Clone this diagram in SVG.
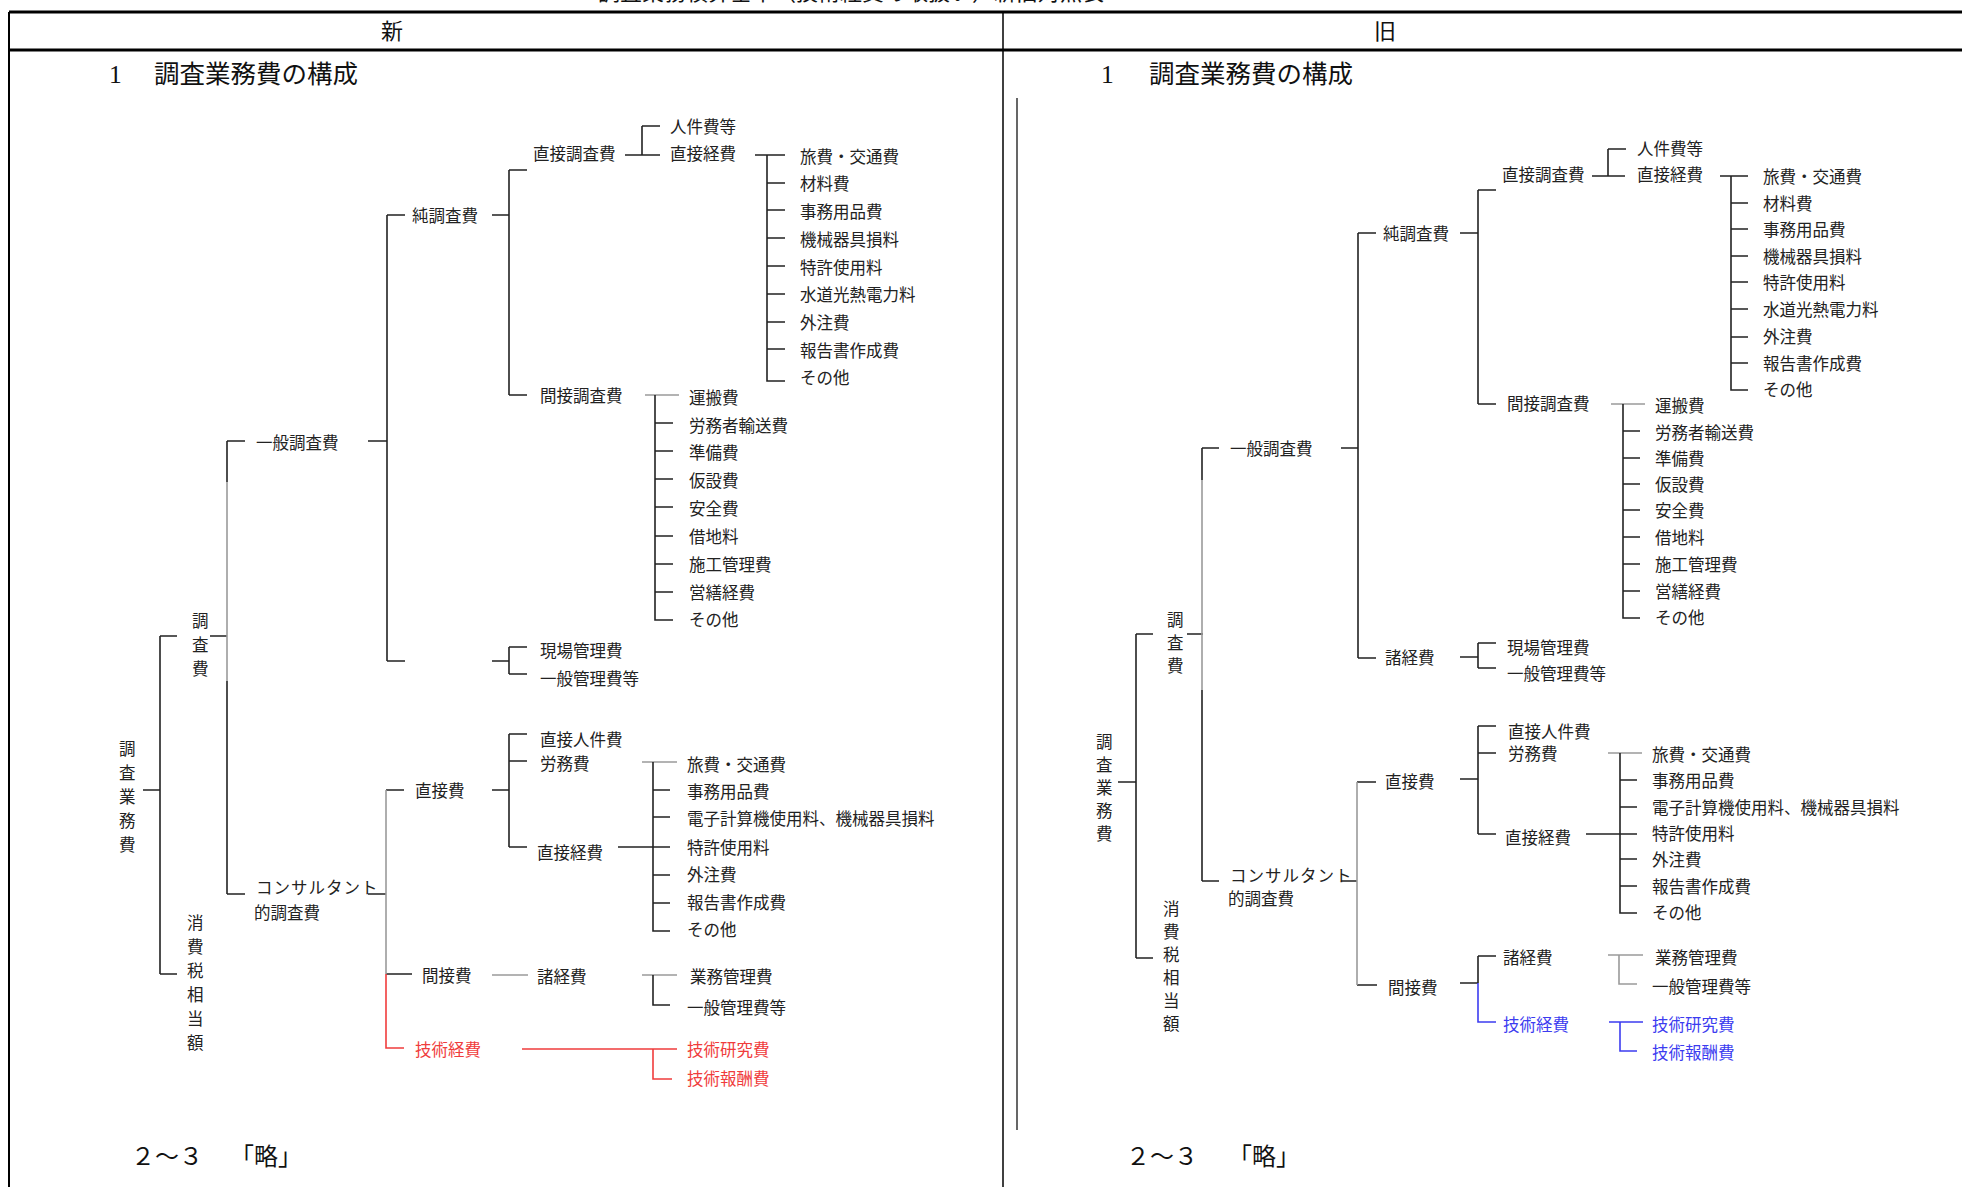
<svg xmlns="http://www.w3.org/2000/svg" width="1962" height="1187" viewBox="0 0 1962 1187">
<style>
.t{font-family:"Noto Sans CJK JP","Noto Sans CJK SC",sans-serif;font-size:16.5px;fill:#222;dominant-baseline:central}
.h{font-family:"Liberation Serif","Noto Sans CJK JP",serif;font-size:24px;fill:#111;dominant-baseline:central}
.red{fill:#f03c3c}
.blue{fill:#3c3cf0}
.l{stroke:#222;stroke-width:1.6;fill:none}
.g{stroke:#9a9a9a;stroke-width:1.6;fill:none}
.lr{stroke:#f03c3c;stroke-width:1.6;fill:none}
.lb{stroke:#3c3cf0;stroke-width:1.6;fill:none}
.frame{stroke:#000;fill:none}
</style>
<rect width="1962" height="1187" fill="#fff"/>
<g id="table">
<text class="h" x="598" y="-8" style="font-size:22px">調査業務積算基準（技術経費の取扱い）新旧対照表</text>
<line class="frame" x1="9" y1="12" x2="1962" y2="12" stroke-width="3"/>
<line class="frame" x1="9" y1="50" x2="1962" y2="50" stroke-width="3"/>
<line class="frame" x1="9" y1="12" x2="9" y2="1187" stroke-width="2"/>
<line class="frame" x1="1003" y1="12" x2="1003" y2="1187" stroke-width="1.5"/>
<line class="frame" x1="1017" y1="98" x2="1017" y2="1130" stroke-width="1.2"/>
<text class="h" x="392" y="31" text-anchor="middle" style="font-size:22px">新</text>
<text class="h" x="1385" y="31" text-anchor="middle" style="font-size:22px">旧</text>
<text class="h" y="74" style="font-size:25.5px"><tspan x="109">1</tspan><tspan x="154">調査業務費の構成</tspan></text>
<text class="h" y="74" style="font-size:25.5px"><tspan x="1101">1</tspan><tspan x="1149">調査業務費の構成</tspan></text>
<text class="h" y="1157"><tspan x="131">２～３</tspan><tspan x="230">「略」</tspan></text>
<text class="h" y="1157"><tspan x="1126">２～３</tspan><tspan x="1228">「略」</tspan></text>
</g>
<g id="connectors">
<!-- NEW (left) -->
<path class="l" d="M143 790H160M160 636V974M160 636H177M160 974H177"/>
<path class="l" d="M210 636H227M227 441V482M227 441H245M227 681V894M227 894H245"/>
<path class="g" d="M227 482V681"/>
<path class="l" d="M368 441H387M387 215V661M387 215H405M387 661H405"/>
<path class="l" d="M492 215H509M509 170V395M509 170H527M509 395H527"/>
<path class="l" d="M625 155H660M642 126V155M642 126H660"/>
<path class="l" d="M755 155H785M767 155V381H785M767 183H785M767 210H785M767 238H785M767 266H785M767 294H785M767 322H785M767 349H785"/>
<path class="g" d="M645 395H679"/>
<path class="l" d="M655 395V620H673M655 423H673M655 451H673M655 479H673M655 507H673M655 536H673M655 564H673M655 592H673"/>
<path class="l" d="M492 661H509M509 647V674M509 647H527M509 674H527"/>
<path class="l" d="M368 894H386M386 790H404M386 974H412"/>
<path class="g" d="M386 790V974"/>
<path class="lr" d="M386 974V1048H404"/>
<path class="l" d="M492 790H509M509 734V847M509 734H527M509 761H527M509 847H527"/>
<path class="l" d="M618 847H670"/>
<path class="g" d="M642 762H677"/>
<path class="l" d="M653 762V931H670M653 790H670M653 817H670M653 875H670M653 903H670"/>
<path class="g" d="M492 975H528"/>
<path class="g" d="M642 975H677"/>
<path class="l" d="M653 975V1005H670"/>
<path class="lr" d="M522 1049H677M653 1049V1079H672"/>
<!-- OLD (right) -->
<path class="l" d="M1118 782H1136M1136 634V958M1136 634H1153M1136 958H1153"/>
<path class="l" d="M1187 634H1203M1202 448V480M1202 448H1219M1202 690V881M1202 881H1219"/>
<path class="g" d="M1202 480V690"/>
<path class="l" d="M1341 448H1358M1358 233V658M1358 233H1376M1358 658H1376"/>
<path class="l" d="M1460 233H1478M1478 190V404M1478 190H1496M1478 404H1496"/>
<path class="l" d="M1592 176H1625M1608 149V176M1608 149H1626"/>
<path class="l" d="M1720 176H1748M1731 176V390H1748M1731 203H1748M1731 229H1748M1731 256H1748M1731 282H1748M1731 309H1748M1731 337H1748M1731 363H1748"/>
<path class="g" d="M1611 404H1645"/>
<path class="l" d="M1623 404V618H1640M1623 431H1640M1623 458H1640M1623 484H1640M1623 510H1640M1623 537H1640M1623 564H1640M1623 591H1640"/>
<path class="l" d="M1460 657H1478M1478 643V668M1478 643H1496M1478 668H1496"/>
<path class="l" d="M1341 881H1357M1357 782H1376M1357 985H1377"/>
<path class="g" d="M1357 782V985"/>
<path class="l" d="M1460 779H1478M1478 726V834M1478 726H1496M1478 753H1496M1478 834H1496"/>
<path class="l" d="M1586 834H1637"/>
<path class="g" d="M1608 753H1642"/>
<path class="l" d="M1620 753V913H1637M1620 780H1637M1620 807H1637M1620 859H1637M1620 886H1637"/>
<path class="l" d="M1460 983H1478M1478 956V983M1478 956H1496"/>
<path class="lb" d="M1478 983V1022H1496"/>
<path class="g" d="M1608 955H1643M1619 955V984H1637"/>
<path class="lb" d="M1609 1022H1643M1620 1022V1051H1637"/>
</g>
<g id="new-tree">
<g id="n-root"><text class="t"><tspan x="119" y="748">調</tspan><tspan x="119" y="772">査</tspan><tspan x="119" y="796">業</tspan><tspan x="119" y="820">務</tspan><tspan x="119" y="844">費</tspan></text></g>
<g id="n-chosahi"><text class="t"><tspan x="192" y="620">調</tspan><tspan x="192" y="644">査</tspan><tspan x="192" y="668">費</tspan></text></g>
<g id="n-tax"><text class="t"><tspan x="187" y="922">消</tspan><tspan x="187" y="946">費</tspan><tspan x="187" y="970">税</tspan><tspan x="187" y="994">相</tspan><tspan x="187" y="1018">当</tspan><tspan x="187" y="1042">額</tspan></text></g>
<g id="n-ippan"><text class="t" x="256" y="442">一般調査費</text></g>
<g id="n-jun"><text class="t" x="412" y="215">純調査費</text></g>
<g id="n-chokuchosa"><text class="t" x="533" y="153">直接調査費</text></g>
<g id="n-jinken"><text class="t" x="670" y="126">人件費等</text></g>
<g id="n-chokukei1"><text class="t" x="670" y="153">直接経費</text></g>
<g id="n-items1">
<text class="t" x="800" y="156">旅費・交通費</text>
<text class="t" x="800" y="183">材料費</text>
<text class="t" x="800" y="211">事務用品費</text>
<text class="t" x="800" y="239">機械器具損料</text>
<text class="t" x="800" y="267">特許使用料</text>
<text class="t" x="800" y="294">水道光熱電力料</text>
<text class="t" x="800" y="322">外注費</text>
<text class="t" x="800" y="350">報告書作成費</text>
<text class="t" x="800" y="377">その他</text>
</g>
<g id="n-kansetsuchosa"><text class="t" x="540" y="395">間接調査費</text></g>
<g id="n-items2">
<text class="t" x="689" y="397">運搬費</text>
<text class="t" x="689" y="425">労務者輸送費</text>
<text class="t" x="689" y="452">準備費</text>
<text class="t" x="689" y="480">仮設費</text>
<text class="t" x="689" y="508">安全費</text>
<text class="t" x="689" y="536">借地料</text>
<text class="t" x="689" y="564">施工管理費</text>
<text class="t" x="689" y="592">営繕経費</text>
<text class="t" x="689" y="619">その他</text>
</g>
<g id="n-genba"><text class="t" x="540" y="650">現場管理費</text></g>
<g id="n-ippankanri1"><text class="t" x="540" y="678">一般管理費等</text></g>
<g id="n-consul"><text class="t"><tspan x="256" y="887" letter-spacing="1">コンサルタント</tspan><tspan x="254" y="912">的調査費</tspan></text></g>
<g id="n-chokusetsuhi"><text class="t" x="415" y="790">直接費</text></g>
<g id="n-chokujinken"><text class="t" x="540" y="739">直接人件費</text></g>
<g id="n-romu"><text class="t" x="540" y="763">労務費</text></g>
<g id="n-chokukei2"><text class="t" x="537" y="852">直接経費</text></g>
<g id="n-items3">
<text class="t" x="687" y="764">旅費・交通費</text>
<text class="t" x="687" y="791">事務用品費</text>
<text class="t" x="687" y="818">電子計算機使用料、機械器具損料</text>
<text class="t" x="687" y="847">特許使用料</text>
<text class="t" x="687" y="874">外注費</text>
<text class="t" x="687" y="902">報告書作成費</text>
<text class="t" x="687" y="929">その他</text>
</g>
<g id="n-kansetsuhi"><text class="t" x="422" y="975">間接費</text></g>
<g id="n-shokeihi"><text class="t" x="537" y="976">諸経費</text></g>
<g id="n-gyomukanri"><text class="t" x="690" y="976">業務管理費</text></g>
<g id="n-ippankanri2"><text class="t" x="687" y="1007">一般管理費等</text></g>
<g id="n-gijutsukeihi"><text class="t red" x="415" y="1049">技術経費</text></g>
<g id="n-gijutsukenkyu"><text class="t red" x="687" y="1049">技術研究費</text></g>
<g id="n-gijutsuhoshu"><text class="t red" x="687" y="1078">技術報酬費</text></g>
</g>
<g id="old-tree">
<g id="o-root"><text class="t"><tspan x="1096" y="741">調</tspan><tspan x="1096" y="764">査</tspan><tspan x="1096" y="787">業</tspan><tspan x="1096" y="810">務</tspan><tspan x="1096" y="833">費</tspan></text></g>
<g id="o-chosahi"><text class="t"><tspan x="1167" y="619">調</tspan><tspan x="1167" y="642">査</tspan><tspan x="1167" y="665">費</tspan></text></g>
<g id="o-tax"><text class="t"><tspan x="1163" y="908">消</tspan><tspan x="1163" y="931">費</tspan><tspan x="1163" y="954">税</tspan><tspan x="1163" y="977">相</tspan><tspan x="1163" y="1000">当</tspan><tspan x="1163" y="1023">額</tspan></text></g>
<g id="o-ippan"><text class="t" x="1230" y="448">一般調査費</text></g>
<g id="o-jun"><text class="t" x="1383" y="233">純調査費</text></g>
<g id="o-chokuchosa"><text class="t" x="1502" y="174">直接調査費</text></g>
<g id="o-jinken"><text class="t" x="1637" y="148">人件費等</text></g>
<g id="o-chokukei1"><text class="t" x="1637" y="174">直接経費</text></g>
<g id="o-items1">
<text class="t" x="1763" y="176">旅費・交通費</text>
<text class="t" x="1763" y="203">材料費</text>
<text class="t" x="1763" y="229">事務用品費</text>
<text class="t" x="1763" y="256">機械器具損料</text>
<text class="t" x="1763" y="282">特許使用料</text>
<text class="t" x="1763" y="309">水道光熱電力料</text>
<text class="t" x="1763" y="336">外注費</text>
<text class="t" x="1763" y="363">報告書作成費</text>
<text class="t" x="1763" y="389">その他</text>
</g>
<g id="o-kansetsuchosa"><text class="t" x="1507" y="403">間接調査費</text></g>
<g id="o-items2">
<text class="t" x="1655" y="405">運搬費</text>
<text class="t" x="1655" y="432">労務者輸送費</text>
<text class="t" x="1655" y="458">準備費</text>
<text class="t" x="1655" y="484">仮設費</text>
<text class="t" x="1655" y="510">安全費</text>
<text class="t" x="1655" y="537">借地料</text>
<text class="t" x="1655" y="564">施工管理費</text>
<text class="t" x="1655" y="591">営繕経費</text>
<text class="t" x="1655" y="617">その他</text>
</g>
<g id="o-shokeihi1"><text class="t" x="1385" y="657">諸経費</text></g>
<g id="o-genba"><text class="t" x="1507" y="647">現場管理費</text></g>
<g id="o-ippankanri1"><text class="t" x="1507" y="673">一般管理費等</text></g>
<g id="o-consul"><text class="t"><tspan x="1230" y="875" letter-spacing="1">コンサルタント</tspan><tspan x="1228" y="898">的調査費</tspan></text></g>
<g id="o-chokusetsuhi"><text class="t" x="1385" y="781">直接費</text></g>
<g id="o-chokujinken"><text class="t" x="1508" y="731">直接人件費</text></g>
<g id="o-romu"><text class="t" x="1508" y="753">労務費</text></g>
<g id="o-chokukei2"><text class="t" x="1505" y="837">直接経費</text></g>
<g id="o-items3">
<text class="t" x="1652" y="754">旅費・交通費</text>
<text class="t" x="1652" y="780">事務用品費</text>
<text class="t" x="1652" y="807">電子計算機使用料、機械器具損料</text>
<text class="t" x="1652" y="833">特許使用料</text>
<text class="t" x="1652" y="859">外注費</text>
<text class="t" x="1652" y="886">報告書作成費</text>
<text class="t" x="1652" y="912">その他</text>
</g>
<g id="o-kansetsuhi"><text class="t" x="1388" y="987">間接費</text></g>
<g id="o-shokeihi2"><text class="t" x="1503" y="957">諸経費</text></g>
<g id="o-gyomukanri"><text class="t" x="1655" y="957">業務管理費</text></g>
<g id="o-ippankanri2"><text class="t" x="1652" y="986">一般管理費等</text></g>
<g id="o-gijutsukeihi"><text class="t blue" x="1503" y="1024">技術経費</text></g>
<g id="o-gijutsukenkyu"><text class="t blue" x="1652" y="1024">技術研究費</text></g>
<g id="o-gijutsuhoshu"><text class="t blue" x="1652" y="1052">技術報酬費</text></g>
</g>
</svg>
